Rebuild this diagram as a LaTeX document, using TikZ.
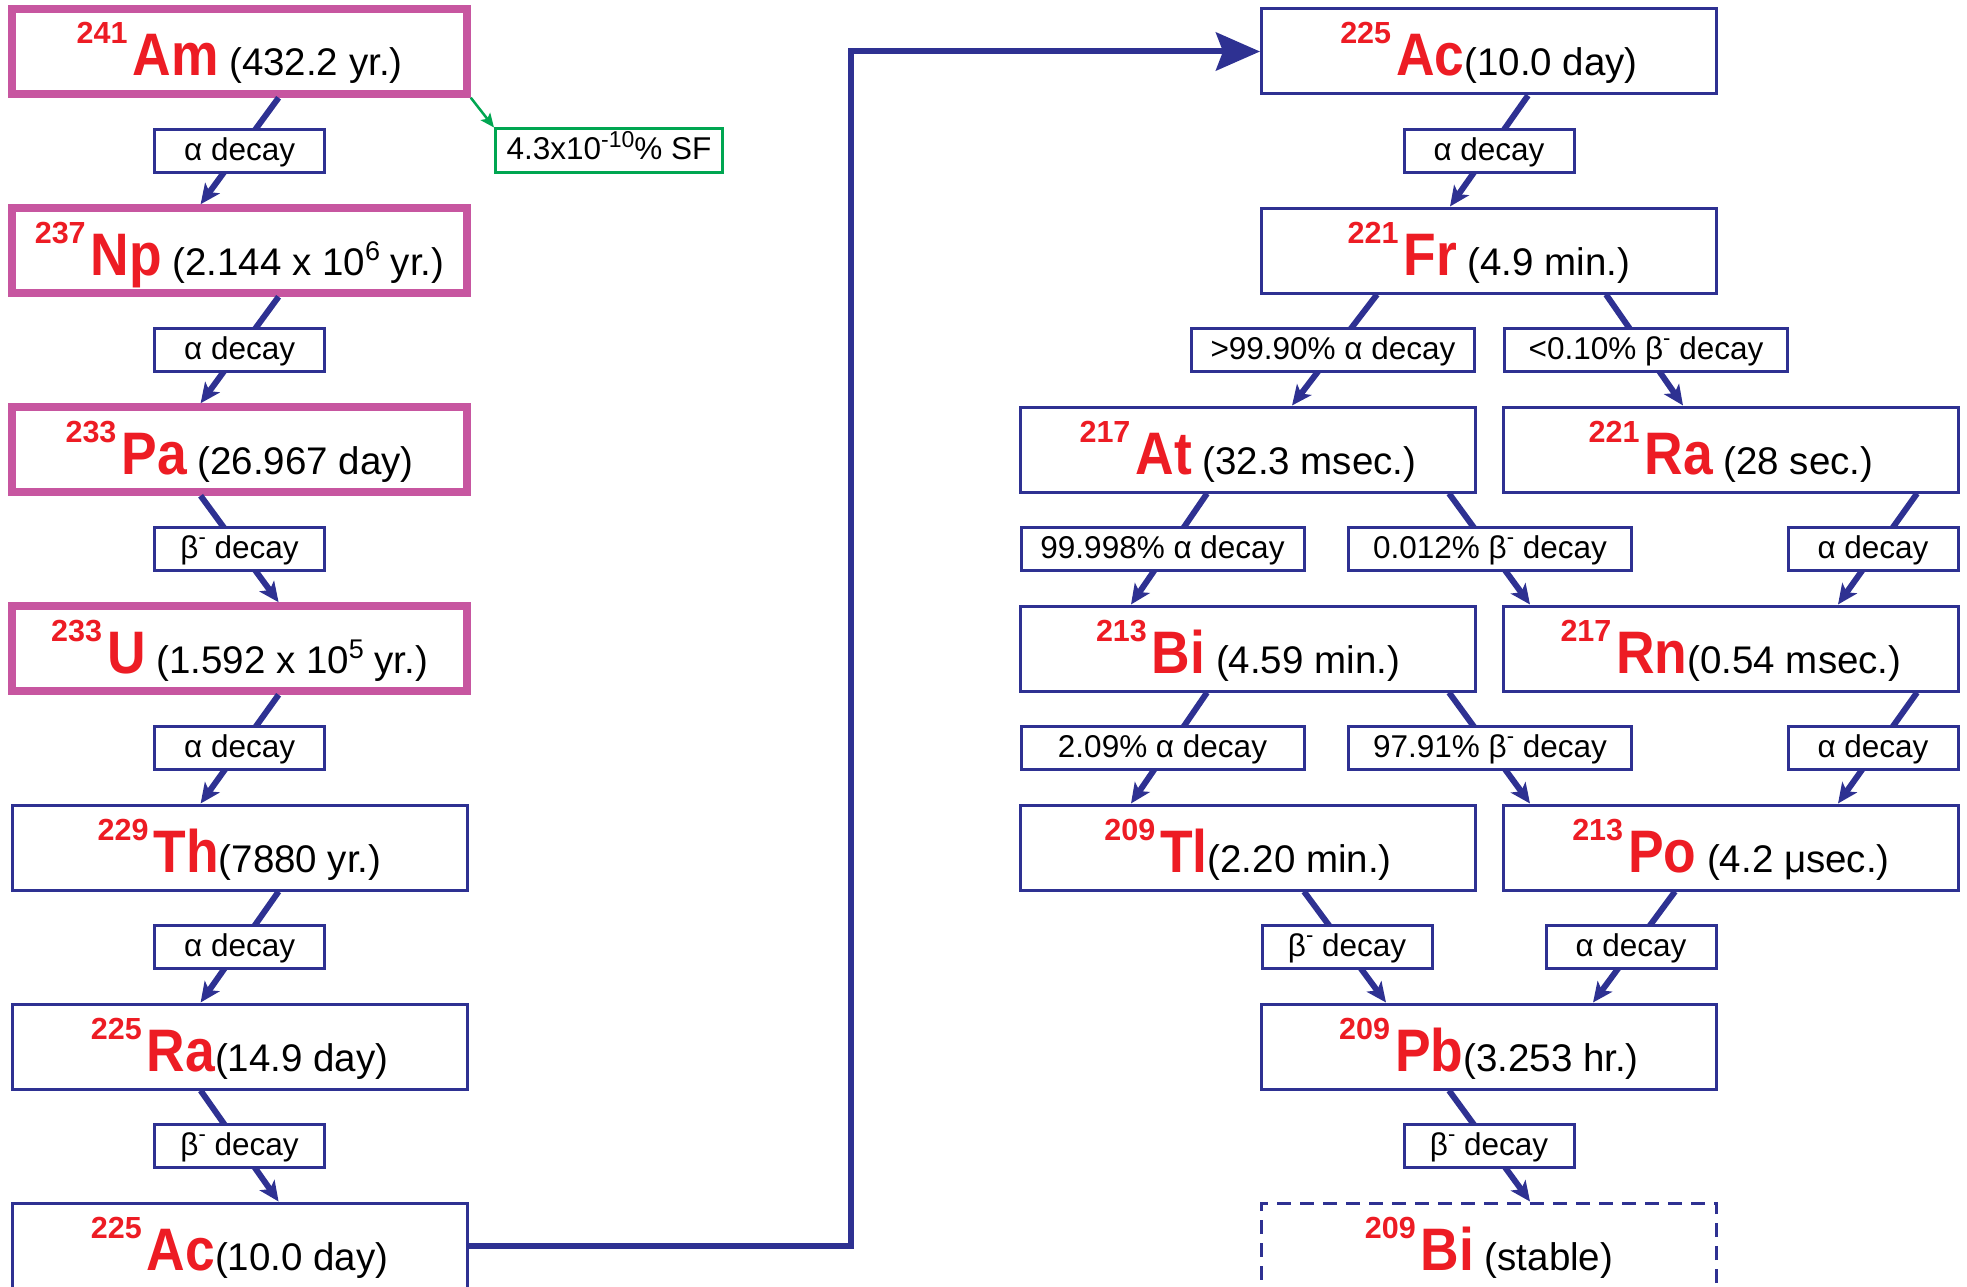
\documentclass[tikz,border=0pt]{standalone}
\usepackage{fontspec}
\setmainfont{Liberation Sans}
\newfontfamily\elemfont{Liberation Sans}[FakeStretch=0.89]
\usetikzlibrary{arrows.meta}

\definecolor{navy}{RGB}{46,49,146}
\definecolor{isored}{RGB}{237,28,36}
\definecolor{mag}{RGB}{199,86,160}
\definecolor{sfgreen}{RGB}{0,166,81}

% mass number, element symbol, half-life
\newcommand\iso[3]{{\color{isored}\bfseries\fontsize{30.5}{30}\selectfont\raisebox{32pt}{#1}\kern5pt\elemfont\bfseries\fontsize{60}{60}\selectfont #2}#3}
% exponent inside a half-life
\newcommand\ex[1]{\raisebox{15pt}{\fontsize{27}{27}\selectfont #1}}
% exponent inside a label
\newcommand\sx[1]{\raisebox{13pt}{\fontsize{23}{23}\selectfont #1}}
% beta minus
\newcommand\betam{β\raisebox{14pt}{\fontsize{22}{22}\selectfont -}}

\tikzset{
  nucbox/.style={draw=navy, line width=3pt, fill=white, minimum width=455pt,
    minimum height=85pt, inner sep=0pt, text height=67pt, text depth=18pt,
    font=\fontsize{38.5}{40}\selectfont},
  pinkbox/.style={nucbox, draw=mag, line width=7.5pt},
  stablebox/.style={nucbox, dash pattern=on 14pt off 9pt},
  lbl/.style={draw=navy, line width=3pt, fill=white, minimum width=170pt,
    minimum height=43pt, inner sep=0pt, text height=31pt, text depth=12pt,
    font=\fontsize{31.5}{34}\selectfont},
  wlbl/.style={lbl, minimum width=283pt},
  sfbox/.style={lbl, draw=sfgreen, minimum width=227pt},
  decay/.style={draw=navy, line width=6pt, -{Stealth[length=20pt,width=18pt,inset=5pt]}},
}

\begin{document}
\begin{tikzpicture}[x=1pt, y=-1pt]
\useasboundingbox (0,0) rectangle (1967,1287);

% left chain
\node[pinkbox] (am)    at (239.6,51.5)   {\iso{241}{Am}{\ (432.2 yr.)}};
\node[pinkbox] (np)    at (239.6,250.5)  {\iso{237}{Np}{\ (2.144 x 10\ex{6} yr.)}};
\node[pinkbox] (pa)    at (239.6,449.5)  {\iso{233}{Pa}{\ (26.967 day)}};
\node[pinkbox] (u)     at (239.6,648.5)  {\iso{233}{U}{\ (1.592 x 10\ex{5} yr.)}};
\node[nucbox]  (th)    at (239.6,847.5)  {\iso{229}{Th}{(7880 yr.)}};
\node[nucbox]  (raA)   at (239.6,1046.5) {\iso{225}{Ra}{(14.9 day)}};
\node[nucbox]  (acA)   at (239.6,1245.5) {\iso{225}{Ac}{(10.0 day)}};

% right chain
\node[nucbox] (acB)   at (1489,51.5)   {\iso{225}{Ac}{(10.0 day)}};
\node[nucbox] (fr)    at (1489,250.5)  {\iso{221}{Fr}{\ (4.9 min.)}};
\node[nucbox] (at)    at (1248,449.5)  {\iso{217}{At}{\ (32.3 msec.)}};
\node[nucbox] (raB)   at (1731,449.5)  {\iso{221}{Ra}{\ (28 sec.)}};
\node[nucbox] (biA)   at (1248,648.5)  {\iso{213}{Bi}{\ (4.59 min.)}};
\node[nucbox] (rn)    at (1731,648.5)  {\iso{217}{Rn}{(0.54 msec.)}};
\node[nucbox] (tl)    at (1248,847.5)  {\iso{209}{Tl}{(2.20 min.)}};
\node[nucbox] (po)    at (1731,847.5)  {\iso{213}{Po}{\ (4.2 μsec.)}};
\node[nucbox] (pb)    at (1489,1046.5) {\iso{209}{Pb}{(3.253 hr.)}};
\node[stablebox] (biB) at (1489,1245.5) {\iso{209}{Bi}{\ (stable)}};

% decay connectors, left
\draw[decay] ([xshift=39pt]am.south)  -- ([xshift=-39pt]np.north);
\draw[decay] ([xshift=39pt]np.south)  -- ([xshift=-39pt]pa.north);
\draw[decay] ([xshift=-39pt]pa.south) -- ([xshift=39pt]u.north);
\draw[decay] ([xshift=39pt]u.south)   -- ([xshift=-39pt]th.north);
\draw[decay] ([xshift=39pt]th.south)  -- ([xshift=-39pt]raA.north);
\draw[decay] ([xshift=-39pt]raA.south) -- ([xshift=39pt]acA.north);

% decay connectors, right
\draw[decay] ([xshift=39pt]acB.south)  -- ([xshift=-39pt]fr.north);
\draw[decay] ([xshift=-112pt]fr.south) -- ([xshift=44pt]at.north);
\draw[decay] ([xshift=117pt]fr.south)  -- ([xshift=-48pt]raB.north);
\draw[decay] ([xshift=-41pt]at.south)  -- ([xshift=-117pt]biA.north);
\draw[decay] ([xshift=201pt]at.south)  -- ([xshift=-201pt]rn.north);
\draw[decay] ([xshift=186pt]raB.south) -- ([xshift=107pt]rn.north);
\draw[decay] ([xshift=-41pt]biA.south) -- ([xshift=-117pt]tl.north);
\draw[decay] ([xshift=201pt]biA.south) -- ([xshift=-201pt]po.north);
\draw[decay] ([xshift=186pt]rn.south)  -- ([xshift=107pt]po.north);
\draw[decay] ([xshift=56pt]tl.south)   -- ([xshift=-103pt]pb.north);
\draw[decay] ([xshift=-56pt]po.south)  -- ([xshift=104pt]pb.north);
\draw[decay] ([xshift=-40pt]pb.south)  -- ([xshift=41pt]biB.north);

% link from the bottom of the left chain to the top of the right chain
\draw[navy, line width=6pt, -{Stealth[length=44pt,width=38pt,inset=7pt]}]
  (acA.east) -- ++(382,0) |- (acB.west);

% spontaneous fission branch
\node[sfbox] (sf) at (609,150.5) {4.3x10\sx{-10}\% SF};
\draw[sfgreen, line width=2.5pt, -{Stealth[length=14pt,width=12pt,inset=3pt]}]
  (am.south east) -- (sf.north west);

% decay labels, left
\node[lbl] (l1) at (239.6,151)  {α decay};
\node[lbl] (l2) at (239.6,350)  {α decay};
\node[lbl] (l3) at (239.6,549)  {\betam\ decay};
\node[lbl] (l4) at (239.6,748)  {α decay};
\node[lbl] (l5) at (239.6,947)  {α decay};
\node[lbl] (l6) at (239.6,1146) {\betam\ decay};

% decay labels, right
\node[lbl]  (r1)  at (1489,151)   {α decay};
\node[wlbl] (r2)  at (1333,350)   {>99.90\% α decay};
\node[wlbl] (r3)  at (1646,350)   {<0.10\% \betam\ decay};
\node[wlbl] (r4)  at (1162.5,549) {99.998\% α decay};
\node[wlbl] (r5)  at (1490,549)   {0.012\% \betam\ decay};
\node[lbl]  (r6)  at (1873,549)   {α decay};
\node[wlbl] (r7)  at (1162.5,748) {2.09\% α decay};
\node[wlbl] (r8)  at (1490,748)   {97.91\% \betam\ decay};
\node[lbl]  (r9)  at (1873,748)   {α decay};
\node[lbl]  (r10) at (1347,947)   {\betam\ decay};
\node[lbl]  (r11) at (1631,947)   {α decay};
\node[lbl]  (r12) at (1489,1146)  {\betam\ decay};
\end{tikzpicture}
\end{document}
